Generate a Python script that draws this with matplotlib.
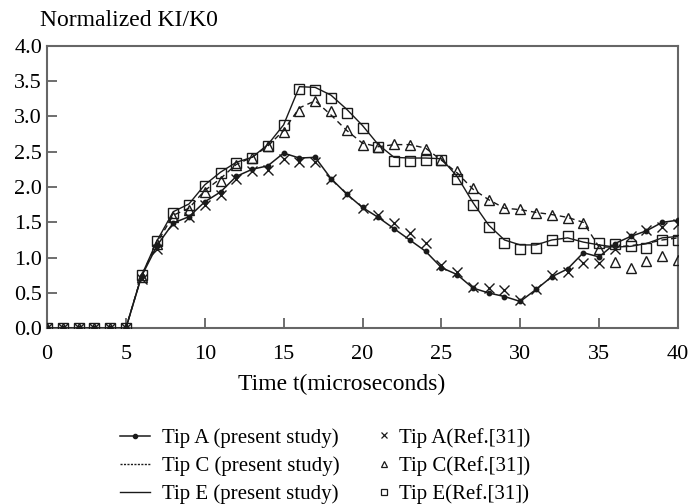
import matplotlib
matplotlib.use("Agg")
import matplotlib.pyplot as plt
from matplotlib.lines import Line2D
import numpy as np

plt.rcParams['font.family'] = ['Liberation Serif', 'DejaVu Serif']

t = list(range(0, 41))

# present study (lines)
tipA_line = [0, 0, 0, 0, 0, 0, 0.74, 1.18, 1.49, 1.58, 1.79, 1.93, 2.15, 2.25, 2.30, 2.48, 2.41, 2.42,
             2.12, 1.90, 1.71, 1.57, 1.41, 1.25, 1.09, 0.86, 0.76, 0.57, 0.50, 0.45, 0.38, 0.55, 0.73,
             0.84, 1.07, 1.01, 1.20, 1.30, 1.38, 1.50, 1.53]
tipC_line = [0, 0, 0, 0, 0, 0, 0.75, 1.22, 1.60, 1.70, 1.95, 2.12, 2.32, 2.42, 2.58, 2.80, 3.12, 3.22,
             3.02, 2.80, 2.62, 2.57, 2.60, 2.60, 2.55, 2.38, 2.20, 1.97, 1.82, 1.70, 1.68, 1.64, 1.61,
             1.57, 1.50, 1.15, 1.15, 1.17, 1.20, 1.25, 1.28]
tipE_line = [0, 0, 0, 0, 0, 0, 0.75, 1.25, 1.65, 1.76, 2.03, 2.21, 2.35, 2.42, 2.60, 2.88, 3.42, 3.41,
             3.30, 3.10, 2.87, 2.60, 2.42, 2.41, 2.41, 2.40, 2.15, 1.78, 1.46, 1.25, 1.18, 1.18, 1.25,
             1.28, 1.22, 1.18, 1.15, 1.16, 1.20, 1.28, 1.30]

# Ref.[31] (markers)
tipA_ref = [0, 0, 0, 0, 0, 0, 0.70, 1.12, 1.47, 1.57, 1.75, 1.88, 2.11, 2.22, 2.24, 2.40, 2.36, 2.36,
            2.12, 1.90, 1.70, 1.60, 1.49, 1.35, 1.21, 0.90, 0.79, 0.59, 0.57, 0.54, 0.40, 0.55, 0.75,
            0.80, 0.93, 0.93, 1.12, 1.30, 1.39, 1.44, 1.48]
tipC_ref = [0, 0, 0, 0, 0, 0, 0.73, 1.20, 1.57, 1.68, 1.93, 2.09, 2.31, 2.41, 2.58, 2.78, 3.08, 3.22,
            3.07, 2.80, 2.60, 2.57, 2.61, 2.60, 2.54, 2.38, 2.22, 1.98, 1.82, 1.70, 1.69, 1.63, 1.61,
            1.56, 1.49, 1.12, 0.94, 0.85, 0.95, 1.03, 0.97]
tipE_ref = [0, 0, 0, 0, 0, 0, 0.75, 1.23, 1.63, 1.74, 2.01, 2.20, 2.34, 2.41, 2.58, 2.88, 3.39, 3.37,
            3.26, 3.05, 2.84, 2.57, 2.37, 2.37, 2.38, 2.38, 2.12, 1.75, 1.44, 1.21, 1.12, 1.13, 1.25,
            1.30, 1.21, 1.21, 1.20, 1.17, 1.13, 1.25, 1.25]

xticks = [0, 5, 10, 15, 20, 25, 30, 35, 40]
yticks = [0.0, 0.5, 1.0, 1.5, 2.0, 2.5, 3.0, 3.5, 4.0]

labels_line = ["Tip A (present study)", "Tip C (present study)", "Tip E (present study)"]
labels_ref = ["Tip A(Ref.[31])", "Tip C(Ref.[31])", "Tip E(Ref.[31])"]

ink = "#1a1a1a"
W, H = 694, 504
fig = plt.figure(figsize=(6.94, 5.04), dpi=100)
ax = fig.add_axes([47/W, 1-328.3/H, (678-47)/W, (328.3-45.7)/H])

ax.plot(t, tipA_line, color=ink, lw=1.1, marker='o', ms=3.2, mfc=ink, mec=ink, zorder=3)
ax.plot(t, tipC_line, color=ink, lw=1.0, ls=(0, (4, 3)), zorder=3)
ax.plot(t, tipE_line, color=ink, lw=1.0, zorder=3)
ax.plot(t, tipA_ref, ls='none', marker='x', ms=7, mew=1.0, color=ink, zorder=4)
ax.plot(t, tipC_ref, ls='none', marker='^', ms=7.5, mew=1.0, mfc='none', mec=ink, zorder=4)
ax.plot(t, tipE_ref, ls='none', marker='s', ms=7.3, mew=1.0, mfc='none', mec=ink, zorder=4)

ax.set_xlim(0, 40)
ax.set_ylim(0, 4.0)
ax.set_xticks(xticks)
ax.set_yticks(yticks)
ax.set_xticklabels([str(v) for v in xticks])
ax.set_yticklabels([f"{v:.1f}" for v in yticks])
ax.tick_params(direction='in', length=7, width=1.2, color='#555555', labelsize=16)
ax.tick_params(axis='x', pad=12)
ax.tick_params(axis='y', pad=3.5)
for s in ax.spines.values():
    s.set_color('#666666')
    s.set_linewidth(1.5)

fig.text(342/W, 1-384/H, "Time t(microseconds)", fontsize=17, va='center', ha='center')
fig.text(40/W, 1-21/H, "Normalized KI/K0", fontsize=17, va='center', ha='left')

h_lines = [
    Line2D([], [], color=ink, lw=1.1, marker='o', ms=3),
    Line2D([], [], color=ink, lw=1.0, ls=(0, (1.5, 1))),
    Line2D([], [], color=ink, lw=1.0),
]
h_refs = [
    Line2D([], [], color=ink, ls='none', marker='x', ms=5, mew=0.9),
    Line2D([], [], color=ink, ls='none', marker='^', ms=5, mfc='none', mew=0.9),
    Line2D([], [], color=ink, ls='none', marker='s', ms=5, mfc='none', mew=0.9),
]
leg1 = fig.legend(h_lines, labels_line, loc='center left', bbox_to_anchor=(120/W, 1-466/H),
                  frameon=False, fontsize=15, handlelength=1.45, handletextpad=0.55,
                  labelspacing=0.4, borderpad=0, borderaxespad=0)
leg2 = fig.legend(h_refs, labels_ref, loc='center left', bbox_to_anchor=(378/W, 1-466/H),
                  frameon=False, fontsize=15, handlelength=0.6, handletextpad=0.4,
                  labelspacing=0.4, borderpad=0, borderaxespad=0)

fig.savefig("out.png", dpi=100)
